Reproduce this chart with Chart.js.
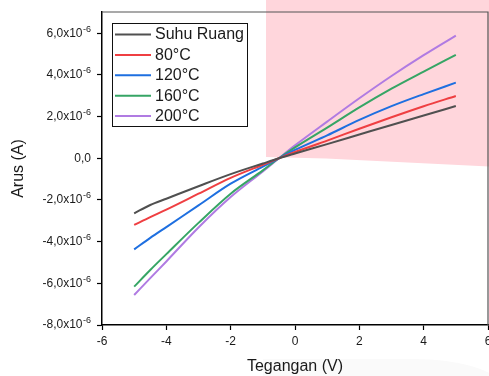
<!DOCTYPE html>
<html>
<head>
<meta charset="utf-8">
<script src="https://cdn.jsdelivr.net/npm/chart.js@4.4.1/dist/chart.umd.min.js"></script>
<style>
    html, body { margin: 0; padding: 0; background: #fff; overflow: hidden; width: 489px; height: 376px; }
    .wrap { position: relative; width: 500px; height: 376px; }
    .pink { position: absolute; left: 266px; top: 0; width: 234px; height: 170px; background: #ffd6dc;
            clip-path: polygon(0 0, 100% 0, 100% 167px, 60px 158.5px, 0 157px); }
    .shade { position: absolute; left: 263px; top: 359px; width: 240px; height: 30px; background: #fafafa;
             border-top-right-radius: 90px 30px; }
    canvas { position: relative; }
</style>
</head>
<body>
<div class="wrap">
    <div class="pink"></div>
    <div class="shade"></div>
    <canvas id="ivChart"></canvas>
</div>
<script>
// Tegangan (V)
const voltage = [-5, -4.5, -4, -3, -2, -1, -0.5, 0, 1, 2, 3, 4, 5];

// Arus, in units of 1e-6 A
const suhuRuang = [-2.64, -2.24, -1.94, -1.34, -0.76, -0.25, 0.0, 0.23, 0.68, 1.14, 1.60, 2.05, 2.51];
const suhu80 = [-3.20, -2.82, -2.46, -1.70, -0.94, -0.31, 0.0, 0.30, 0.85, 1.42, 1.97, 2.50, 2.99];
const suhu120 = [-4.37, -3.82, -3.30, -2.26, -1.22, -0.40, 0.0, 0.40, 1.10, 1.84, 2.50, 3.08, 3.63];
const suhu160 = [-6.16, -5.36, -4.60, -3.10, -1.70, -0.58, 0.0, 0.52, 1.47, 2.44, 3.34, 4.16, 4.96];
const suhu200 = [-6.56, -5.75, -4.95, -3.32, -1.86, -0.63, 0.0, 0.62, 1.76, 2.88, 3.95, 4.95, 5.89];

const seriesLabels = ['Suhu Ruang', '80°C', '120°C', '160°C', '200°C'];
const seriesValues = [suhuRuang, suhu80, suhu120, suhu160, suhu200];
const seriesColors = ['#505050', '#ef3f42', '#1e6fe0', '#36a565', '#b07be2'];

const xTicks = [-6, -4, -2, 0, 2, 4, 6];
const yTicks = [-8, -6, -4, -2, 0, 2, 4, 6];

const FONT = 'Liberation Sans, Arial, Helvetica, sans-serif';
const TEXT = '#1a1a1a';

const datasets = seriesValues.map((vals, i) => ({
    label: seriesLabels[i],
    data: voltage.map((v, j) => ({ x: v, y: vals[j] })),
    borderColor: seriesColors[i],
    backgroundColor: seriesColors[i],
    borderWidth: 2,
    pointRadius: 0,
    cubicInterpolationMode: 'monotone',
    fill: false
}));

// y tick labels like 6,0x10^-6 with a raised exponent
const yLabelPlugin = {
    id: 'yLabels',
    afterDraw(chart) {
        const ctx = chart.ctx;
        const y = chart.scales.y;
        const right = 91;
        ctx.save();
        ctx.fillStyle = TEXT;
        ctx.textBaseline = 'middle';
        ctx.textAlign = 'right';
        yTicks.forEach(v => {
            const py = y.getPixelForValue(v);
            if (v === 0) {
                ctx.font = '12px ' + FONT;
                ctx.fillText('0,0', right, py);
                return;
            }
            ctx.font = '9px ' + FONT;
            const sup = '-6';
            const supW = ctx.measureText(sup).width;
            ctx.fillText(sup, right, py - 4);
            ctx.font = '12px ' + FONT;
            ctx.fillText(v.toFixed(1).replace('.', ',') + 'x10', right - supW - 0.5, py);
        });
        ctx.restore();
    }
};

// top / right frame and the boxed legend
const framePlugin = {
    id: 'frame',
    afterDraw(chart) {
        const ctx = chart.ctx;
        const a = chart.chartArea;
        ctx.save();
        ctx.strokeStyle = '#555';
        ctx.lineWidth = 1.2;
        ctx.beginPath();
        ctx.moveTo(a.left, a.top);
        ctx.lineTo(a.right, a.top);
        ctx.lineTo(a.right, a.bottom);
        ctx.stroke();

        // legend
        const bx = 112.5, by = 23.5, bw = 135, bh = 103;
        ctx.fillStyle = '#fff';
        ctx.fillRect(bx, by, bw, bh);
        ctx.strokeStyle = '#111';
        ctx.lineWidth = 1;
        ctx.strokeRect(bx, by, bw, bh);
        ctx.font = '16px ' + FONT;
        ctx.textBaseline = 'middle';
        ctx.textAlign = 'left';
        chart.data.datasets.forEach((ds, i) => {
            const ry = 34.5 + i * 20.4;
            ctx.strokeStyle = ds.borderColor;
            ctx.lineWidth = 2;
            ctx.beginPath();
            ctx.moveTo(115, ry);
            ctx.lineTo(151, ry);
            ctx.stroke();
            ctx.fillStyle = TEXT;
            ctx.fillText(ds.label, 155, ry + 0.5);
        });
        ctx.restore();
    }
};

new Chart(document.getElementById('ivChart'), {
    type: 'line',
    data: { datasets },
    options: {
        responsive: true,
        maintainAspectRatio: false,
        animation: false,
        layout: { padding: { left: 0, right: 12, top: 12, bottom: 0 } },
        plugins: {
            legend: { display: false },
            tooltip: { enabled: false }
        },
        scales: {
            x: {
                type: 'linear',
                min: -6,
                max: 6,
                afterFit: s => { s.height = 51; },
                afterBuildTicks: s => { s.ticks = xTicks.map(v => ({ value: v })); },
                ticks: {
                    color: TEXT,
                    font: { family: FONT, size: 12 },
                    padding: 4,
                    maxRotation: 0
                },
                grid: { drawOnChartArea: false, drawTicks: true, tickLength: 5, tickColor: '#000', tickWidth: 1.2 },
                border: { color: '#000', width: 1.5 },
                title: {
                    display: true,
                    text: 'Tegangan (V)',
                    color: TEXT,
                    font: { family: FONT, size: 16 },
                    padding: { top: 4, bottom: 0 }
                }
            },
            y: {
                type: 'linear',
                min: -8,
                max: 7.02,
                afterFit: s => { s.width = 102; },
                afterBuildTicks: s => { s.ticks = yTicks.map(v => ({ value: v })); },
                ticks: { display: false },
                grid: { drawOnChartArea: false, drawTicks: true, tickLength: 5, tickColor: '#000', tickWidth: 1.2 },
                border: { color: '#000', width: 1.5 },
                title: {
                    display: true,
                    text: 'Arus (A)',
                    color: TEXT,
                    font: { family: FONT, size: 16 },
                    padding: { top: 9, bottom: 4 }
                }
            }
        }
    },
    plugins: [yLabelPlugin, framePlugin]
});
</script>
</body>
</html>
